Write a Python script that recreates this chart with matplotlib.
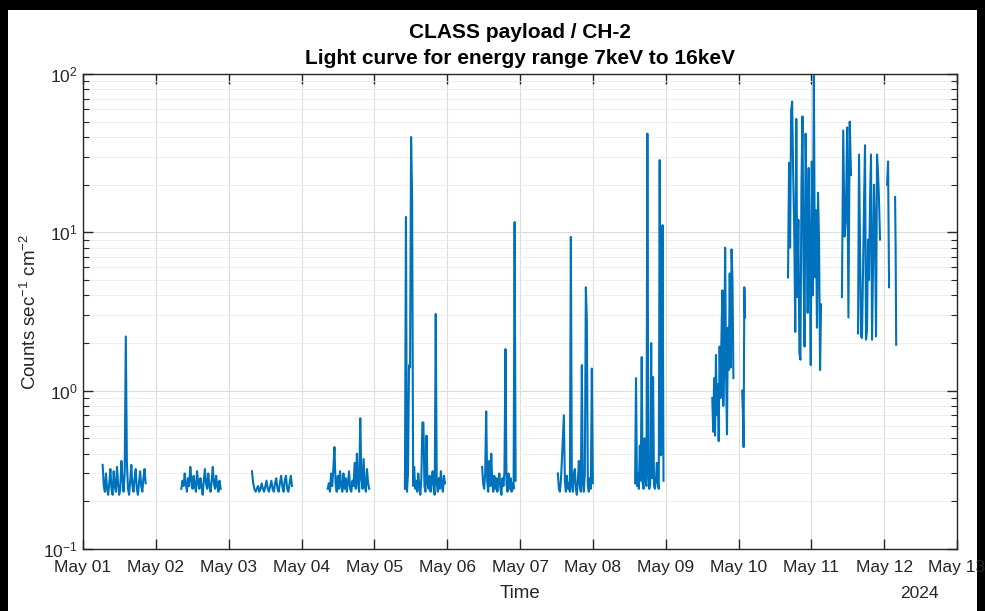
import numpy as np
import matplotlib
matplotlib.use("Agg")
import matplotlib.pyplot as plt
import matplotlib.dates as mdates
from matplotlib.patches import Rectangle
from matplotlib.ticker import LogLocator, LogFormatterSciNotation, NullFormatter
import datetime

plt.rcParams['font.family'] = ['Liberation Sans', 'DejaVu Sans']
plt.rcParams['mathtext.fontset'] = 'custom'
plt.rcParams['mathtext.rm'] = 'Liberation Sans'
plt.rcParams['mathtext.it'] = 'Liberation Sans:italic'
plt.rcParams['mathtext.bf'] = 'Liberation Sans:bold'

# ---------------- data (days after 2024-05-01 00:00, counts s^-1 cm^-2) ----------------
seg_start_days = [0.27, 1.35, 2.32, 3.36, 4.42, 5.48, 6.52, 7.58, 8.64, 9.05, 9.68, 10.42, 10.641, 11.04, 11.15]
seg_end_days   = [0.86, 1.89, 2.87, 3.93, 4.97, 5.94, 7.00, 7.97, 8.93, 9.09, 10.134, 10.545, 10.943, 11.067, 11.165]

seg01_counts = [0.34, 0.25, 0.23, 0.30, 0.24, 0.22, 0.26, 0.32, 0.24, 0.22, 0.31, 0.25, 0.23, 0.33,
                0.26, 0.22, 0.24, 0.36, 0.28, 0.23, 0.30, 2.2, 0.35, 0.24, 0.22, 0.27, 0.34, 0.25,
                0.23, 0.28, 0.32, 0.24, 0.22, 0.26, 0.31, 0.25, 0.23, 0.28, 0.32, 0.26]
seg02_counts = [0.24, 0.27, 0.25, 0.30, 0.26, 0.23, 0.28, 0.25, 0.33, 0.27, 0.24, 0.29, 0.25, 0.23,
                0.31, 0.26, 0.24, 0.28, 0.25, 0.22, 0.27, 0.32, 0.26, 0.24, 0.30, 0.25, 0.23, 0.27,
                0.33, 0.26, 0.24, 0.29, 0.25, 0.23, 0.27, 0.24]
seg03_counts = [0.31, 0.26, 0.24, 0.23, 0.24, 0.25, 0.23, 0.24, 0.26, 0.24, 0.23, 0.25, 0.27, 0.24,
                0.23, 0.25, 0.27, 0.24, 0.23, 0.26, 0.28, 0.24, 0.23, 0.26, 0.29, 0.25, 0.23, 0.27,
                0.29, 0.24, 0.23, 0.26, 0.29, 0.25]
seg04_counts = [0.24, 0.26, 0.23, 0.30, 0.25, 0.32, 0.44, 0.26, 0.23, 0.29, 0.24, 0.31, 0.25, 0.23,
                0.30, 0.24, 0.28, 0.23, 0.26, 0.31, 0.24, 0.23, 0.27, 0.25, 0.35, 0.24, 0.40, 0.26,
                0.23, 0.67, 0.28, 0.24, 0.37, 0.25, 0.23, 0.32, 0.26, 0.24]
seg05_counts = [0.24, 12.5, 0.23, 0.30, 1.45, 1.40, 40.0, 17.0, 0.25, 0.33, 0.24, 0.27, 0.23, 0.30,
                0.25, 0.22, 0.28, 0.63, 0.63, 0.25, 0.23, 0.52, 0.26, 0.24, 0.29, 0.23, 0.27, 0.31,
                0.24, 0.22, 3.05, 0.26, 0.23, 0.28, 0.24, 0.31, 0.25, 0.23, 0.29, 0.26]
seg06_counts = [0.33, 0.26, 0.24, 0.30, 0.74, 0.27, 0.23, 0.36, 0.25, 0.40, 0.26, 0.23, 0.29, 0.24,
                0.28, 0.23, 0.27, 0.30, 0.24, 0.22, 0.28, 0.25, 0.31, 1.83, 0.26, 0.23, 0.30, 0.24,
                0.28, 0.23, 0.26, 0.24, 11.6, 0.27]
seg07_counts = [0.30, 0.24, 0.23, 0.27, 0.36, 0.51, 0.70, 0.27, 0.23, 0.29, 0.24, 0.26, 0.23, 9.35,
                0.25, 0.23, 0.30, 0.32, 0.24, 0.22, 0.27, 0.36, 0.25, 0.23, 1.45, 0.26, 0.23, 0.30,
                4.5, 2.8, 0.25, 0.23, 0.28, 0.24, 1.38, 0.26]
seg08_counts = [0.26, 1.2, 0.25, 0.30, 0.24, 0.45, 0.27, 1.63, 0.26, 0.24, 0.50, 0.27, 0.25, 42.0,
                0.30, 0.24, 0.26, 2.0, 0.28, 1.22, 0.25, 0.24, 0.27, 0.35, 0.26, 0.24, 28.6, 0.39,
                0.40, 11.1, 0.27]
seg09_counts = [0.9, 0.55, 1.2, 0.52, 1.68, 0.7, 1.1, 0.48, 1.9, 0.9, 2.2, 4.3, 0.8, 1.6, 8.0, 1.3,
                0.53, 2.5, 1.35, 5.5, 1.4, 7.8, 5.0, 1.2]
seg10_counts = [1.0, 0.75, 0.44, 4.5, 2.9]
seg11_counts = [5.2, 27.5, 8.0, 59.0, 67.0, 23.0, 10.4, 2.35, 52.0, 3.9, 12.0, 1.73, 1.57, 20.0,
                54.0, 6.0, 1.9, 42.0, 14.0, 3.1, 25.5, 7.0, 1.45, 28.0, 4.0, 98.0, 5.2, 13.8, 2.5,
                17.8, 9.0, 1.35, 3.5]
seg12_counts = [3.9, 44.0, 9.4, 12.0, 46.0, 2.9, 50.0, 23.0]
seg13_counts = [2.3, 31.0, 8.0, 2.2, 2.15, 6.0, 15.0, 35.5, 2.1, 2.4, 9.0, 5.0, 16.0, 31.0, 2.1,
                6.0, 20.0, 10.0, 2.2, 31.0, 24.0, 16.0, 9.0]
seg14_counts = [20.0, 28.0, 4.5]
seg15_counts = [16.7, 8.0, 1.95]

segments = [seg01_counts, seg02_counts, seg03_counts, seg04_counts, seg05_counts, seg06_counts,
            seg07_counts, seg08_counts, seg09_counts, seg10_counts, seg11_counts, seg12_counts,
            seg13_counts, seg14_counts, seg15_counts]

x_tick_days = list(range(0, 13))
title_lines = ["CLASS payload / CH-2", "Light curve for energy range 7keV to 16keV"]

# ---------------- build series with gaps ----------------
t0 = mdates.date2num(datetime.datetime(2024, 5, 1))
xs, ys = [], []
for s, e, vals in zip(seg_start_days, seg_end_days, segments):
    t = np.linspace(s, e, len(vals))
    xs.extend(list(t0 + t))
    ys.extend(vals)
    xs.append(np.nan)
    ys.append(np.nan)
xs = np.array(xs)
ys = np.array(ys)

# ---------------- figure ----------------
W, H = 985, 611
fig = plt.figure(figsize=(W / 100, H / 100), dpi=100)
fig.patch.set_facecolor('black')
fig.patches.append(Rectangle((8 / W, 0), (977 - 8) / W, (611 - 10) / H,
                             transform=fig.transFigure, facecolor='white',
                             edgecolor='none', zorder=-10))

ax = fig.add_axes([83 / W, (H - 549) / H, (957 - 83) / W, (549 - 74) / H])
ax.set_zorder(1)
ax.set_facecolor('white')

ax.plot(xs, ys, color='#0072BD', lw=1.5, zorder=3)

ax.set_yscale('log')
ax.set_ylim(0.1, 100)
ax.set_xlim(t0 + x_tick_days[0], t0 + x_tick_days[-1])

ax.xaxis.set_major_locator(mdates.DayLocator())
ax.xaxis.set_major_formatter(mdates.DateFormatter('%b %d'))
ax.yaxis.set_major_locator(LogLocator(base=10))
ax.yaxis.set_major_formatter(LogFormatterSciNotation())
ax.yaxis.set_minor_locator(LogLocator(base=10, subs=np.arange(2, 10)))
ax.yaxis.set_minor_formatter(NullFormatter())

dark = '#262626'
for sp in ax.spines.values():
    sp.set_color(dark)
    sp.set_linewidth(1.0)
ax.tick_params(which='both', direction='in', top=True, right=True, color=dark,
               labelcolor=dark)
ax.tick_params(axis='x', which='major', length=7, width=1.0, labelsize=12.5, pad=8)
ax.tick_params(axis='y', which='major', length=7, width=1.0, labelsize=12.5, pad=4)
ax.tick_params(axis='y', which='minor', length=4, width=0.8)

ax.grid(True, which='major', color='#dcdcdc', lw=0.8)
ax.grid(True, which='minor', axis='y', color='#ebebeb', lw=0.6)
ax.set_axisbelow(True)

ax.set_ylabel('Counts sec$^{-1}$ cm$^{-2}$', fontsize=13.5, color=dark, va='center')
ax.yaxis.set_label_coords((30 - 83) / (957 - 83), 0.5)
ax.set_xlabel('Time', fontsize=13.5, color=dark, va='center')
ax.xaxis.set_label_coords(0.5, (549 - 594) / (549 - 74))

fig.text(919 / W, 1 - 594 / H, '2024', fontsize=12.5, color=dark, ha='center', va='center')
fig.text(520 / W, 1 - 32 / H, title_lines[0], fontsize=15, fontweight='bold',
         color='black', ha='center', va='center')
fig.text(520 / W, 1 - 59 / H, title_lines[1], fontsize=15, fontweight='bold',
         color='black', ha='center', va='center')

fig.savefig('out.png', dpi=100, facecolor=fig.get_facecolor())
